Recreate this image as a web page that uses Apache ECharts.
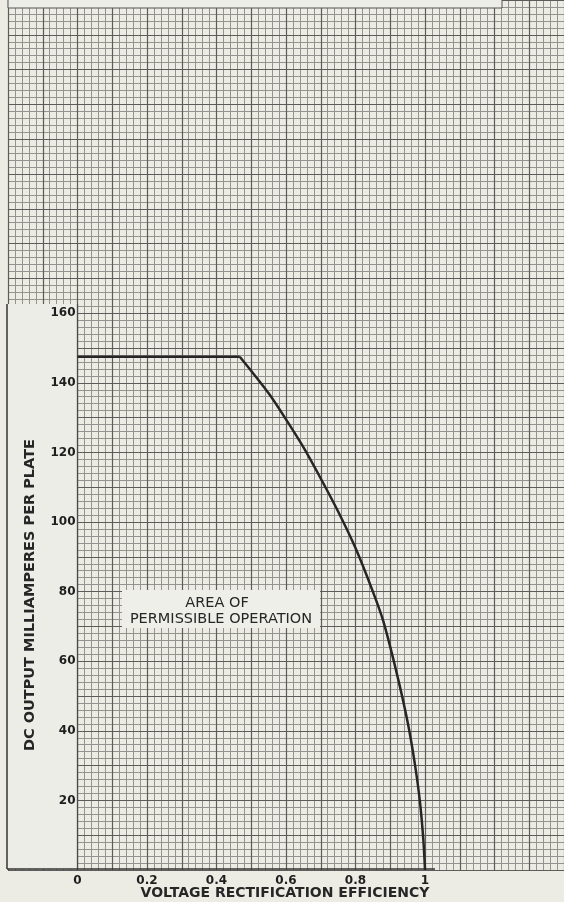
<!DOCTYPE html>
<html><head><meta charset="utf-8">
<script src="https://cdn.jsdelivr.net/npm/echarts@6/dist/echarts.min.js"></script>
<style>html,body{margin:0;padding:0;background:#ecece4}#c{width:564px;height:902px}</style>
</head><body><div id="c"></div>
<script>
// Curve: maximum DC output current per plate vs voltage rectification efficiency
const efficiency = [0, 0.467, 0.55, 0.60, 0.65, 0.70, 0.75, 0.80, 0.85, 0.88, 0.92, 0.95, 0.97, 0.985, 0.995, 1.0];
const currentMA  = [147.5, 147.5, 137, 129.5, 121.5, 112.5, 103, 92.5, 80, 71.5, 56, 42.5, 31, 20, 9, 0];
const xTickLabels = ['0', '0.2', '0.4', '0.6', '0.8', '1'];
const yTickLabels = ['20', '40', '60', '80', '100', '120', '140', '160'];
const xTitle = 'VOLTAGE RECTIFICATION EFFICIENCY';
const yTitle = 'DC OUTPUT MILLIAMPERES PER PLATE';
const noteLines = ['AREA OF', 'PERMISSIBLE OPERATION'];

const X_MIN = -0.2, X_MAX = 1.4, Y_MIN = 0, Y_MAX = 250;
const PANEL = '#ededE7';
const INK = '#262626';
const FONT = 'DejaVu Sans';

function gridAxis(dim, interval, color, width, z) {
  return {
    type: 'value', gridIndex: 0,
    min: dim === 'x' ? X_MIN : Y_MIN, max: dim === 'x' ? X_MAX : Y_MAX,
    interval: interval, position: dim === 'x' ? 'bottom' : 'left', z: z,
    axisLine: { show: false, onZero: false }, axisTick: { show: false }, axisLabel: { show: false },
    splitLine: { show: true, lineStyle: { color: color, width: width } }
  };
}

function txt(x, y, s, size, weight, rot) {
  return {
    type: 'text', z: 7, x: x, y: y, rotation: rot || 0,
    style: {
      text: s, fontFamily: FONT, fontSize: size, fontWeight: weight, fill: INK,
      align: 'center', verticalAlign: 'middle', textAlign: 'center', textVerticalAlign: 'middle'
    }
  };
}

const points = efficiency.map((x, i) => [x, currentMA[i]]);
const KINK = 1; // index where the flat limit ends and the falling curve begins

const chart = echarts.init(document.getElementById('c'), null, { renderer: 'canvas' });
chart.setOption({
  backgroundColor: '#ecece4',
  animation: false,
  grid: { left: 8, right: 0, top: 0, bottom: 32, containLabel: false, outerBoundsMode: 'none' },
  xAxis: [
    gridAxis('x', 0.02, '#93938f', 1, 0),
    gridAxis('x', 0.1, '#5c5c5a', 1.2, 1),
    {
      type: 'value', min: X_MIN, max: X_MAX, interval: 0.2, position: 'bottom', z: 20,
      axisLine: { show: false, onZero: false }, axisTick: { show: false }, splitLine: { show: false },
      axisLabel: {
        show: true, margin: 5, color: '#1e1e1e', fontFamily: FONT, fontWeight: 'bold', fontSize: 12,
        formatter: function (v) { const s = String(Math.round(v * 10) / 10); return xTickLabels.includes(s) ? s : ''; }
      }
    }
  ],
  yAxis: [
    gridAxis('y', 2, '#93938f', 1, 0),
    gridAxis('y', 10, '#5c5c5a', 1.2, 1),
    {
      type: 'value', min: Y_MIN, max: Y_MAX, interval: 20, position: 'left', offset: -69.5, z: 20,
      axisLine: { show: false, onZero: false },
      axisTick: { show: false }, splitLine: { show: false },
      axisLabel: {
        show: true, margin: 2, color: '#1e1e1e', fontFamily: FONT, fontWeight: 'bold', fontSize: 12,
        formatter: function (v) { const s = String(Math.round(v)); return yTickLabels.includes(s) ? s : ''; }
      }
    }
  ],
  graphic: [
    { type: 'rect', z: 5, shape: { x: 7, y: 304, width: 70.5, height: 565 }, style: { fill: PANEL } },
    { type: 'line', z: 6, shape: { x1: 77.5, y1: 304, x2: 77.5, y2: 869 }, style: { stroke: '#4a4a48', lineWidth: 1.3 } },
    { type: 'line', z: 6, shape: { x1: 7, y1: 304, x2: 7, y2: 869 }, style: { stroke: '#333', lineWidth: 1.5 } },
    { type: 'line', z: 6, shape: { x1: 7, y1: 869, x2: 435, y2: 869 }, style: { stroke: '#333', lineWidth: 1.5 } },
    { type: 'rect', z: 5, shape: { x: 8, y: -3, width: 494, height: 11 }, style: { fill: PANEL, stroke: '#555', lineWidth: 1 } },
    { type: 'rect', z: 5, shape: { x: 122, y: 590, width: 198, height: 38 }, style: { fill: '#efefe9' } },
    txt(217, 603.5, noteLines[0], 14.5, 'normal'),
    txt(221, 619.5, noteLines[1], 14.5, 'normal'),
    txt(285, 893, xTitle, 14, 'bold'),
    txt(30, 595, yTitle, 14.5, 'bold', Math.PI / 2)
  ],
  series: [
    {
      type: 'line', xAxisIndex: 0, yAxisIndex: 0, z: 10, symbol: 'none', smooth: false,
      lineStyle: { color: INK, width: 2.5 },
      data: points.slice(0, KINK + 1)
    },
    {
      type: 'line', xAxisIndex: 0, yAxisIndex: 0, z: 10, symbol: 'none', smooth: 0.3,
      lineStyle: { color: INK, width: 2.5 },
      data: points.slice(KINK)
    }
  ]
});
</script></body></html>
